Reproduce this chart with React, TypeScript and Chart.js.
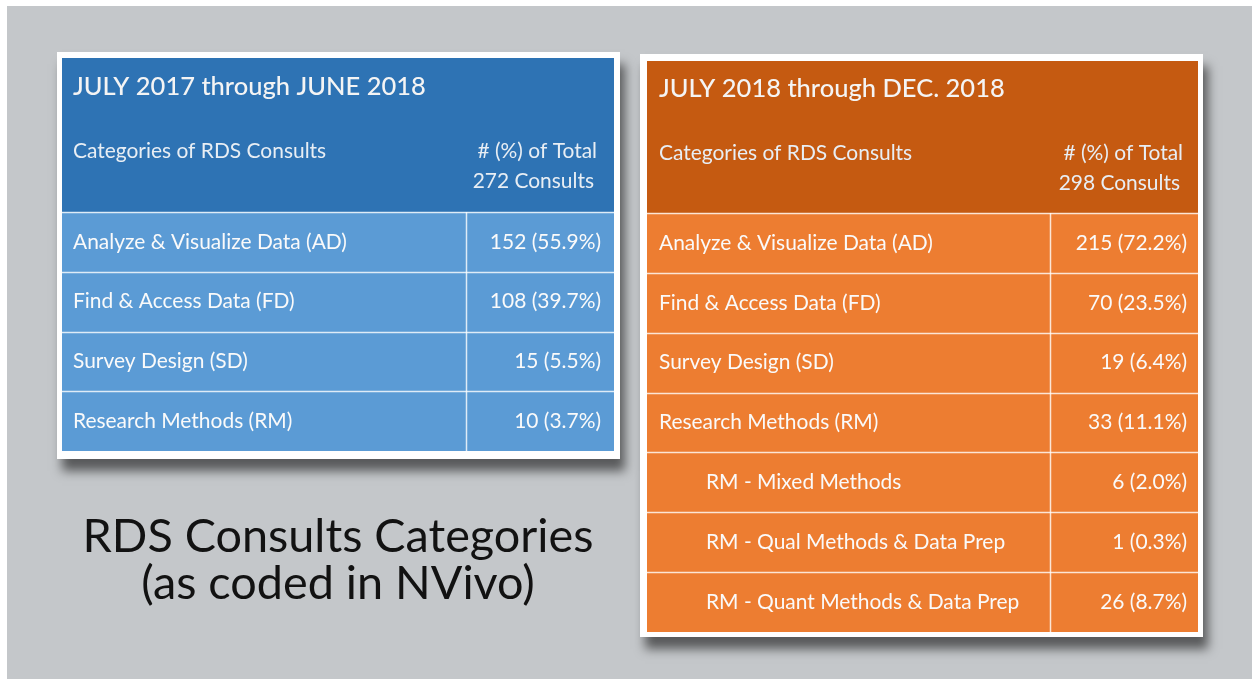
import { useEffect, useRef } from 'react';
import { Chart, registerables } from 'chart.js';

Chart.register(...registerables);

// ---- data ----
const periodTitles = ['JULY 2017 through JUNE 2018', 'JULY 2018 through DEC. 2018'];
const totalConsults = [272, 298];
const headerLabels = ['Categories of RDS Consults', '# (%) of Total', 'Consults'];

const leftCategories = [
  'Analyze & Visualize Data (AD)',
  'Find & Access Data (FD)',
  'Survey Design (SD)',
  'Research Methods (RM)',
];
const leftCounts = [152, 108, 15, 10];
const leftPercents = [55.9, 39.7, 5.5, 3.7];

const rightCategories = [
  'Analyze & Visualize Data (AD)',
  'Find & Access Data (FD)',
  'Survey Design (SD)',
  'Research Methods (RM)',
  'RM - Mixed Methods',
  'RM - Qual Methods & Data Prep',
  'RM - Quant Methods & Data Prep',
];
const rightCounts = [215, 70, 19, 33, 6, 1, 26];
const rightPercents = [72.2, 23.5, 6.4, 11.1, 2.0, 0.3, 8.7];
const rightIndented = [false, false, false, false, true, true, true];

const captionLines = ['RDS Consults Categories', '(as coded in NVivo)'];

// ---- styles ----
const W = 1252;
const H = 679;
const FONT = 'Lato, "Open Sans", sans-serif';
const CAPTION_FONT = 'Lato, "Open Sans", sans-serif';

function fitSize(ctx: CanvasRenderingContext2D, text: string, target: number, weight: string, family: string) {
  ctx.font = `${weight} 100px ${family}`;
  const w = ctx.measureText(text).width;
  return (100 * target) / w;
}

type TableSpec = {
  card: [number, number, number, number];
  inner: [number, number, number, number];
  headerBottom: number;
  divider: number;
  textLeft: number;
  indent: number;
  valueRight: number;
  headRight1: number;
  headRight2: number;
  titleY: number;
  headY1: number;
  headY2: number;
  headerColor: string;
  rowColor: string;
  title: string;
  total: number;
  categories: string[];
  counts: number[];
  percents: number[];
  indented: boolean[];
};

const tableSpecs: TableSpec[] = [
  {
    card: [57, 52, 620, 459],
    inner: [62, 58, 614, 451],
    headerBottom: 212,
    divider: 466,
    textLeft: 73,
    indent: 0,
    valueRight: 601,
    headRight1: 597,
    headRight2: 594,
    titleY: 87,
    headY1: 151,
    headY2: 181,
    headerColor: '#2E73B4',
    rowColor: '#5B9BD5',
    title: periodTitles[0],
    total: totalConsults[0],
    categories: leftCategories,
    counts: leftCounts,
    percents: leftPercents,
    indented: leftCategories.map(() => false),
  },
  {
    card: [640, 54, 1203, 637],
    inner: [647, 61, 1198, 632],
    headerBottom: 213,
    divider: 1050,
    textLeft: 659,
    indent: 47,
    valueRight: 1187,
    headRight1: 1183,
    headRight2: 1180,
    titleY: 89,
    headY1: 153,
    headY2: 183,
    headerColor: '#C55A11',
    rowColor: '#ED7D31',
    title: periodTitles[1],
    total: totalConsults[1],
    categories: rightCategories,
    counts: rightCounts,
    percents: rightPercents,
    indented: rightIndented,
  },
];

const tablesPlugin = {
  id: 'consultTables',
  beforeDraw(chart: any) {
    const ctx: CanvasRenderingContext2D = chart.ctx;
    ctx.save();
    // background
    ctx.fillStyle = '#FFFFFF';
    ctx.fillRect(0, 0, W, H);
    ctx.fillStyle = '#C4C7CA';
    ctx.fillRect(7, 6, W - 7, H - 6);

    const titleSize = fitSize(ctx, periodTitles[0], 353, '500', FONT);
    const bodySize = fitSize(ctx, leftCategories[0], 274, '400', FONT);

    for (const t of tableSpecs) {
      const [cx0, cy0, cx1, cy1] = t.card;
      // shadow + white card
      ctx.save();
      ctx.shadowColor = 'rgba(0,0,0,0.55)';
      ctx.shadowBlur = 10;
      ctx.shadowOffsetX = 5;
      ctx.shadowOffsetY = 12;
      ctx.fillStyle = '#FFFFFF';
      ctx.fillRect(cx0, cy0, cx1 - cx0, cy1 - cy0);
      ctx.restore();

      const [ix0, iy0, ix1, iy1] = t.inner;
      // header
      ctx.fillStyle = t.headerColor;
      ctx.fillRect(ix0, iy0, ix1 - ix0, t.headerBottom - iy0);
      // rows
      ctx.fillStyle = t.rowColor;
      ctx.fillRect(ix0, t.headerBottom, ix1 - ix0, iy1 - t.headerBottom);

      const n = t.categories.length;
      const rowH = (iy1 - t.headerBottom) / n;

      // grid lines
      ctx.strokeStyle = 'rgba(255,255,255,0.8)';
      ctx.lineWidth = 1.5;
      for (let i = 0; i <= n; i++) {
        const y = Math.round(t.headerBottom + i * rowH) + 0.5;
        if (i === n) break;
        ctx.beginPath();
        ctx.moveTo(ix0, y);
        ctx.lineTo(ix1, y);
        ctx.stroke();
      }
      ctx.beginPath();
      ctx.moveTo(t.divider + 0.5, t.headerBottom);
      ctx.lineTo(t.divider + 0.5, iy1);
      ctx.stroke();

      // header texts
      ctx.fillStyle = '#F4F4F4';
      ctx.textBaseline = 'middle';
      ctx.textAlign = 'left';
      ctx.font = `500 ${titleSize}px ${FONT}`;
      ctx.fillText(t.title, t.textLeft, t.titleY);

      ctx.font = `400 ${bodySize}px ${FONT}`;
      ctx.fillStyle = '#E8EEF4';
      ctx.fillText(headerLabels[0], t.textLeft, t.headY1);
      ctx.textAlign = 'right';
      ctx.fillText(headerLabels[1], t.headRight1, t.headY1);
      ctx.fillText(`${t.total} ${headerLabels[2]}`, t.headRight2, t.headY2);

      // rows
      ctx.fillStyle = '#FAFAFA';
      for (let i = 0; i < n; i++) {
        const yMid = t.headerBottom + (i + 0.5) * rowH;
        ctx.textAlign = 'left';
        ctx.fillText(t.categories[i], t.textLeft + (t.indented[i] ? t.indent : 0), yMid);
        ctx.textAlign = 'right';
        ctx.fillText(`${t.counts[i]} (${t.percents[i].toFixed(1)}%)`, t.valueRight, yMid);
      }
    }

    // caption
    const capSize = fitSize(ctx, captionLines[0], 511, '400', CAPTION_FONT);
    ctx.font = `400 ${capSize}px ${CAPTION_FONT}`;
    ctx.fillStyle = '#121212';
    ctx.textAlign = 'center';
    ctx.textBaseline = 'alphabetic';
    ctx.fillText(captionLines[0], 338, 552);
    ctx.fillText(captionLines[1], 338, 599);
    ctx.restore();
  },
};

export default function App() {
  const ref = useRef<HTMLCanvasElement | null>(null);
  useEffect(() => {
    document.body.style.margin = '0';
    const canvas = ref.current!;
    const chart = new Chart(canvas, {
      type: 'bar',
      data: { labels: [], datasets: [] },
      options: {
        responsive: false,
        animation: false,
        devicePixelRatio: 1,
        events: [],
        layout: { padding: 0 },
        plugins: { legend: { display: false }, tooltip: { enabled: false }, title: { display: false } },
        scales: { x: { display: false }, y: { display: false } },
      },
      plugins: [tablesPlugin],
    });
    return () => chart.destroy();
  }, []);
  return <canvas ref={ref} width={W} height={H} style={{ display: 'block', width: W, height: H }} />;
}
